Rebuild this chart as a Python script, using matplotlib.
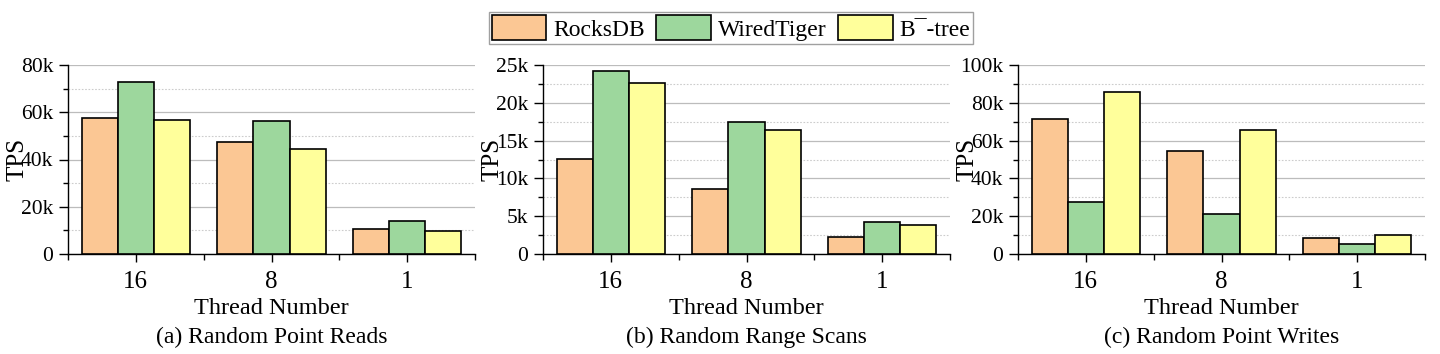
import matplotlib
matplotlib.use("Agg")
import matplotlib.pyplot as plt
import numpy as np
from matplotlib.ticker import MultipleLocator, FuncFormatter

plt.rcParams['font.family'] = ['Liberation Serif', 'DejaVu Serif']

categories = ["16", "8", "1"]
series_names = ["RocksDB", "WiredTiger", "B¯-tree"]
colors = ["#FBC794", "#9DD79D", "#FFFF9B"]

reads_rocks = [57.4, 47.4, 10.7]
reads_wt = [72.6, 56.3, 13.8]
reads_bt = [56.6, 44.4, 9.9]

scans_rocks = [12.57, 8.64, 2.25]
scans_wt = [24.16, 17.5, 4.23]
scans_bt = [22.66, 16.45, 3.79]

writes_rocks = [71.4, 54.7, 8.5]
writes_wt = [27.5, 21.2, 5.5]
writes_bt = [85.5, 65.6, 10.2]

panels = [
    ("(a) Random Point Reads", [reads_rocks, reads_wt, reads_bt], 80, 20),
    ("(b) Random Range Scans", [scans_rocks, scans_wt, scans_bt], 25, 5),
    ("(c) Random Point Writes", [writes_rocks, writes_wt, writes_bt], 100, 20),
]

fig = plt.figure(figsize=(14.4, 3.54), dpi=100)
lefts = [68, 543, 1018]
W, H = 1440, 354
axw = 407
bottom = 1 - 254 / H
top = 1 - 65 / H

x = np.arange(len(categories))
bw = 0.8 / 3
handles = None
for i, (title, data, ymax, major) in enumerate(panels):
    ax = fig.add_axes([lefts[i] / W, bottom, axw / W, top - bottom])
    bars = []
    for j, vals in enumerate(data):
        b = ax.bar(x + (j - 1) * bw, vals, bw, color=colors[j], edgecolor="black",
                   linewidth=1.2, zorder=3, label=series_names[j])
        bars.append(b)
    handles = bars
    ax.set_xlim(-0.5, 2.5)
    ax.set_ylim(0, ymax)
    ax.yaxis.set_major_locator(MultipleLocator(major))
    ax.yaxis.set_minor_locator(MultipleLocator(major / 2))
    ax.yaxis.set_major_formatter(FuncFormatter(lambda v, p: "0" if v == 0 else f"{v:g}k"))
    ax.grid(axis="y", which="major", color="#bcbcbc", linewidth=0.9, zorder=0)
    ax.grid(axis="y", which="minor", color="#cccccc", linewidth=0.8, linestyle=(0, (1.5, 1.5)), zorder=0)
    ax.set_xticks(x)
    ax.set_xticklabels(categories, fontsize=18)
    ax.set_xticks([-0.5, 0.5, 1.5, 2.5], minor=True)
    ax.tick_params(axis="x", which="major", length=6, width=1, pad=6)
    ax.tick_params(axis="x", which="minor", length=4, width=1)
    ax.tick_params(axis="y", which="major", length=6.5, width=1, labelsize=15.5, pad=4)
    ax.tick_params(axis="y", which="minor", length=3.5, width=1)
    for s in ["top", "right"]:
        ax.spines[s].set_visible(False)
    for s in ["left", "bottom"]:
        ax.spines[s].set_linewidth(1.0)
    ax.set_ylabel("TPS", fontsize=18, labelpad=0)
    ax.yaxis.set_label_coords(-0.098, 0.5)
    cx = (lefts[i] + axw / 2) / W
    fig.text(cx, 1 - 308 / H, "Thread Number", ha="center", va="center", fontsize=17.5)
    fig.text(cx, 1 - 337 / H, title, ha="center", va="center", fontsize=17)

leg = fig.legend(handles, series_names, loc="center", bbox_to_anchor=(731 / W, 1 - 28 / H),
                 ncol=3, fontsize=17, frameon=True, fancybox=False, edgecolor="#888888",
                 handlelength=2.3, handleheight=1.25, handletextpad=0.3, columnspacing=0.5,
                 borderpad=0.12, borderaxespad=0)
leg.get_frame().set_linewidth(1.0)

fig.savefig("out.png", dpi=100)
